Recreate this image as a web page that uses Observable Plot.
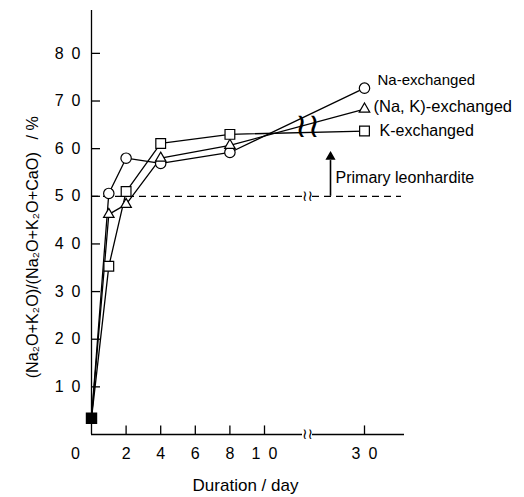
<!DOCTYPE html>
<html>
<head>
<meta charset="utf-8">
<script src="https://cdn.jsdelivr.net/npm/d3@7"></script>
<script src="https://cdn.jsdelivr.net/npm/@observablehq/plot@0.6"></script>
<style>
  html, body { margin: 0; padding: 0; background: #fff; }
</style>
</head>
<body>
<div id="chart"></div>
<script>
// ---- data ----
const days = [1, 2, 4, 8, 30];
const naExchanged = [50.6, 58.0, 56.9, 59.2, 72.7];
const naKExchanged = [46.2, 48.3, 58.0, 60.7, 68.3];
const kExchanged = [35.3, 51.0, 61.1, 63.0, 63.7];
const startDay = 0;
const startValue = 3.4;
const seriesNames = ["Na-exchanged", "(Na, K)-exchanged", "K-exchanged"];
const primaryLeonhardite = 50;

const xTicks = [2, 4, 6, 8, 10, 30];
const xTickLabels = ["2", "4", "6", "8", "1\u20020", "3\u20020"];
const originLabel = "0";
const yTicks = [10, 20, 30, 40, 50, 60, 70, 80];
const yTickLabels = ["1\u20020", "2\u20020", "3\u20020", "4\u20020", "5\u20020", "6\u20020", "7\u20020", "8\u20020"];

const breakDay = 18.6;
const arrowDay = 23.2;
const axisEnd = 38;
const yTop = 89;

// ---- build tables ----
const valuesBySeries = [naExchanged, naKExchanged, kExchanged];
const lineData = [];
valuesBySeries.forEach((vals, si) => {
  lineData.push({series: seriesNames[si], day: startDay, value: startValue});
  days.forEach((d, i) => lineData.push({series: seriesNames[si], day: d, value: vals[i]}));
});
const pts = (si) => days.map((d, i) => ({day: d, value: valuesBySeries[si][i], series: seriesNames[si]}));
const lastPt = (si) => [{day: days[days.length - 1], value: valuesBySeries[si][days.length - 1], name: seriesNames[si]}];

const labelOffsets = [[13, -8], [9, -2], [15, 0]];
const labelSizes = [15, 16.5, 16];

const chart = Plot.plot({
  width: 524,
  height: 497,
  x: {type: "linear", domain: [0, 10, 30], range: [91, 264, 364], axis: null},
  y: {domain: [0, yTop], range: [434, 10], axis: null},
  style: {fontFamily: "'Liberation Sans', Arial, sans-serif", fontSize: "16px", background: "#fff", color: "#000"},
  marks: [
    // y axis
    Plot.ruleX([0], {y1: 0, y2: yTop, stroke: "#000", strokeWidth: 1.3}),
    Plot.ruleY(yTicks, {x1: 0, x2: 0.52, y: d => d, stroke: "#000", strokeWidth: 1.3}),
    Plot.text(yTicks, {x: 0, y: d => d, text: (d, i) => yTickLabels[i], dx: -11, textAnchor: "end", fontSize: 16}),
    // x axis (broken)
    Plot.ruleY([0], {x1: 0, x2: breakDay - 1.0, stroke: "#000", strokeWidth: 1.3}),
    Plot.ruleY([0], {x1: breakDay + 1.0, x2: axisEnd, stroke: "#000", strokeWidth: 1.3}),
    Plot.ruleX(xTicks, {x: d => d, y1: 0, y2: 1.8, stroke: "#000", strokeWidth: 1.3}),
    Plot.text(xTicks, {x: d => d, y: 0, text: (d, i) => xTickLabels[i], dy: 19, fontSize: 16}),
    Plot.text([originLabel], {x: 0, y: 0, text: d => d, dx: -16, dy: 19, fontSize: 16}),
    // dashed primary leonhardite level (broken)
    Plot.ruleY([primaryLeonhardite], {x1: 0, x2: breakDay - 1.0, stroke: "#000", strokeDasharray: "7,5", strokeWidth: 1.2}),
    Plot.ruleY([primaryLeonhardite], {x1: breakDay + 1.0, x2: axisEnd - 0.6, stroke: "#000", strokeDasharray: "7,5", strokeWidth: 1.2}),
    // series lines
    Plot.line(lineData, {x: "day", y: "value", z: "series", stroke: "#000", strokeWidth: 1.3}),
    // break symbols
    Plot.text([0], {x: breakDay, y: 0, text: () => "\u2240\u2240", fontSize: 15, fontFamily: "DejaVu Sans"}),
    Plot.text([0], {x: breakDay, y: primaryLeonhardite, text: () => "\u2240\u2240", fontSize: 15, fontFamily: "DejaVu Sans"}),
    Plot.text([0], {x: breakDay, y: 64.7, text: () => "\u2240\u2240", fontSize: 34, fontFamily: "DejaVu Sans"}),
    // start point
    Plot.dot([{day: startDay, value: startValue}], {x: "day", y: "value", symbol: "square", r: 5.6, fill: "#000", stroke: "#000"}),
    // markers
    Plot.dot(pts(0), {x: "day", y: "value", symbol: "circle", r: 5.2, fill: "#fff", stroke: "#000", strokeWidth: 1.2}),
    Plot.dot(pts(1), {x: "day", y: "value", symbol: "triangle", r: 3.9, fill: "#fff", stroke: "#000", strokeWidth: 1.2}),
    Plot.dot(pts(2), {x: "day", y: "value", symbol: "square", r: 5.5, fill: "#fff", stroke: "#000", strokeWidth: 1.2}),
    // series labels
    ...[0, 1, 2].map(si => Plot.text(lastPt(si), {x: "day", y: "value", text: "name", textAnchor: "start", dx: labelOffsets[si][0], dy: labelOffsets[si][1], fontSize: labelSizes[si]})),
    // arrow
    Plot.ruleX([arrowDay], {x: d => d, y1: primaryLeonhardite, y2: 57.5, stroke: "#000", strokeWidth: 1.6}),
    Plot.dot([arrowDay], {x: d => d, y: 58.3, symbol: "triangle", r: 2.8, fill: "#000", stroke: "#000"}),
    Plot.text(["Primary leonhardite"], {x: arrowDay, y: 53.8, text: d => d, dx: 5, textAnchor: "start", fontSize: 16}),
    // axis titles
    Plot.text(["Duration / day"], {x: 0, y: 0, text: d => d, dx: 154, dy: 51, fontSize: 17}),
    Plot.text(["(Na\u2082O+K\u2082O)/(Na\u2082O+K\u2082O+CaO)\u2002 / %"], {x: 0, y: 39.3, text: d => d, dx: -59, rotate: -90, fontSize: 16.2})
  ]
});
document.getElementById("chart").appendChild(chart);
</script>
</body>
</html>
